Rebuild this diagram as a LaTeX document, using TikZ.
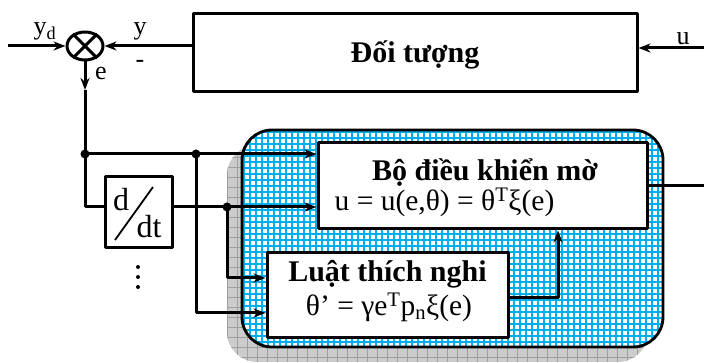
\documentclass[tikz,border=0pt]{standalone}
\usepackage{fontspec}
\setmainfont{Liberation Serif}
\usetikzlibrary{arrows.meta,shapes.geometric}
\tikzset{
  blockbox/.style={draw,line width=3pt,fill=white,inner sep=0pt},
  sumnode/.style={draw,ellipse,line width=3pt,fill=white,minimum width=36pt,minimum height=28pt,inner sep=0pt},
  sig/.style={line width=3pt},
  lbl/.style={font=\fontsize{26}{28}\selectfont,inner sep=0pt,anchor=base},
  ttl/.style={font=\fontsize{30}{32}\selectfont\bfseries,inner sep=0pt,anchor=base},
  eqn/.style={font=\fontsize{29.5}{31}\selectfont,inner sep=0pt,anchor=base},
  dfont/.style={font=\fontsize{32}{34}\selectfont,inner sep=0pt,anchor=base},
}
\begin{document}
\begin{tikzpicture}[x=1pt,y=-1pt,>={Stealth[length=12pt,width=9pt]},line join=round]
\useasboundingbox (0,0) rectangle (704,363);
% shadow of the adaptive part
\begin{scope}
  \clip[rounded corners=30pt] (227,145) rectangle (648,362);
  \fill[gray!40] (227,145) rectangle (648,362);
  \foreach \x in {227,237,...,648} \draw[gray!75,line width=0.8pt] (\x,145)--(\x,362);
  \foreach \y in {147,157,...,362} \draw[gray!75,line width=0.8pt] (227,\y)--(648,\y);
\end{scope}
% adaptive part
\begin{scope}
  \clip[rounded corners=30pt] (242,130) rectangle (663,347);
  \fill[white] (242,130) rectangle (663,347);
  \foreach \x in {244,250,...,663} \draw[cyan,line width=1.3pt] (\x,130)--(\x,347);
  \foreach \y in {132,138,...,347} \draw[cyan,line width=1.3pt] (242,\y)--(663,\y);
\end{scope}
\draw[line width=2.8pt,rounded corners=30pt] (242,130) rectangle (663,347);

% blocks
\node[sumnode] (sum) at (85,46) {};
\draw[sig] (sum.45)--(sum.225) (sum.135)--(sum.-45);
\node[blockbox,minimum width=444pt,minimum height=78pt] (plant) at (415,53) {};
\node[ttl] (plantname) at (415,63) {Đối tượng};
\node[blockbox,minimum width=67pt,minimum height=71pt] (ddt) at (138.5,212.5) {};
\node[dfont] (dnum) at (121,211) {d};
\node[dfont] (dden) at (149,238) {dt};
\draw[line width=1.8pt] (115,240) -- (153,187);
\node[blockbox,minimum width=329pt,minimum height=86pt] (fuzzy) at (482.5,186) {};
\node[ttl] (fuzzyname) at (485,181) {Bộ điều khiển mờ};
\node[eqn] (fuzzyeq) at (444.5,211) {u = u(e,θ) = θ\textsuperscript{T}ξ(e)};
\node[blockbox,minimum width=241pt,minimum height=84pt] (adapt) at (387.5,295) {};
\node[ttl] (adaptname) at (387.5,282) {Luật thích nghi};
\node[eqn] (adapteq) at (389,316) {θ’ = γe\textsuperscript{T}p\textsubscript{n}ξ(e)};

\path (8,46) coordinate (ydin)
  (704,48) coordinate (uin)
  (704,186) coordinate (uout)
  (85,90) coordinate (etip)
  (85,154) coordinate (j1)
  (196,154) coordinate (j2)
  (85,207) coordinate (dcorner)
  (227,207) coordinate (j3)
  (227,278) coordinate (a1)
  (196,313) coordinate (a2)
  (558,298) coordinate (fb);

% signals
\draw[sig,->] (ydin) -- (sum.west);
\draw[sig,->] (plant.west |- sum) -- (sum.east);
\draw[sig,->] (uin) -- (plant.east |- uin);
\draw[sig,->] (sum.south) -- (etip);
\draw[sig] (etip) -- (j1);
\draw[sig,->] (j1) -- (fuzzy.west |- j1);
\draw[sig] (j1) -- (dcorner) -- (ddt.west |- dcorner);
\draw[sig,->] (ddt.east |- dcorner) -- (fuzzy.west |- dcorner);
\draw[sig,->] (j3) |- (adapt.west |- a1);
\draw[sig,->] (j2) |- (adapt.west |- a2);
\draw[sig,->] (adapt.east |- fb) -| (fuzzy.south -| fb);
\draw[sig] (fuzzy.east) -- (uout);
\foreach \j in {j1,j2,j3} \fill (\j) circle (4.5pt);
\foreach \k in {267,277,287} \fill (138,\k) circle (2pt);

% labels
\node[lbl] (ydlbl) at (45,35) {y\textsubscript{d}};
\node[lbl] (ylbl) at (140,35) {y};
\node[lbl] (minus) at (140,68) {-};
\node[lbl] (elbl) at (101,80) {e};
\node[lbl] (ulbl) at (683,45) {u};
\end{tikzpicture}
\end{document}
